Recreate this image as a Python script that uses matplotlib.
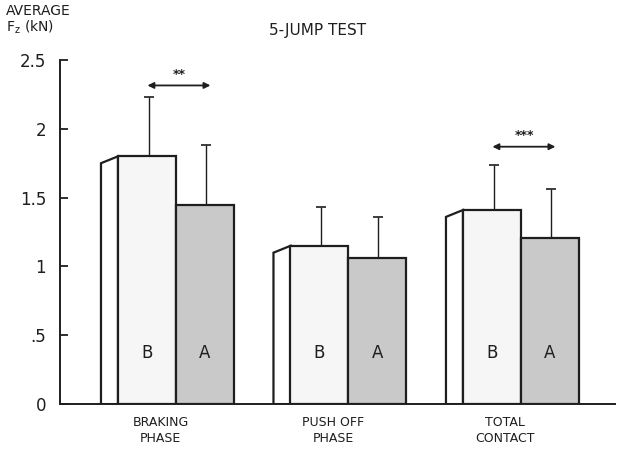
import matplotlib
matplotlib.use("Agg")
import matplotlib.pyplot as plt
import matplotlib.transforms as mtransforms
from matplotlib.patches import Polygon, Rectangle

categories = ["BRAKING\nPHASE", "PUSH OFF\nPHASE", "TOTAL\nCONTACT"]
before_vals = [1.80, 1.15, 1.41]
after_vals = [1.45, 1.06, 1.21]
before_err = [0.43, 0.28, 0.33]
after_err = [0.43, 0.30, 0.35]
yticks = [0, 0.5, 1, 1.5, 2, 2.5]
ytick_labels = ["0", ".5", "1", "1.5", "2", "2.5"]
signif = {0: "**", 2: "***"}

ink = "#1e1e1e"
gray = "#c9c9c9"
light = "#f6f6f6"

fig = plt.figure(figsize=(6.2, 4.51), dpi=100)
ax = fig.add_axes([0.0968, 0.104, 0.895, 0.763])
ax.set_xlim(-0.672, 2.545)
ax.set_ylim(0, 2.5)

w = 0.336
side = 0.0985
dy = 0.05
lw = 1.6
for i, (b, a) in enumerate(zip(before_vals, after_vals)):
    # side face of B bar
    ax.add_patch(Polygon([(i - w - side, 0), (i - w - side, b - dy), (i - w, b), (i - w, 0)],
                         closed=True, facecolor="white", edgecolor=ink, lw=lw, zorder=2))
    ax.add_patch(Rectangle((i - w, 0), w, b, facecolor=light, edgecolor=ink, lw=lw, zorder=3))
    ax.add_patch(Rectangle((i, 0), w, a, facecolor=gray, edgecolor=ink, lw=lw, zorder=3))
    ax.errorbar([i - w / 2 + 0.01], [b], yerr=[[0], [before_err[i]]], fmt="none",
                ecolor=ink, elinewidth=1.0, capsize=3.5, capthick=1.2, zorder=4)
    ax.errorbar([i + w / 2 + 0.005], [a], yerr=[[0], [after_err[i]]], fmt="none",
                ecolor=ink, elinewidth=1.0, capsize=3.5, capthick=1.2, zorder=4)
    ax.text(i - w / 2, 0.37, "B", ha="center", va="center", fontsize=12, color=ink, zorder=5)
    ax.text(i + w / 2, 0.37, "A", ha="center", va="center", fontsize=12, color=ink, zorder=5)

# significance arrows
for i, stars in signif.items():
    top = max(before_vals[i] + before_err[i], after_vals[i] + after_err[i])
    y = top + 0.085 if i == 0 else top + 0.13
    ax.annotate("", xy=(i + 0.2, y), xytext=(i - 0.165, y),
                arrowprops=dict(arrowstyle="<|-|>", color=ink, lw=1.3,
                                mutation_scale=9, shrinkA=0, shrinkB=0))
    ax.text(i + 0.02, y + 0.035, stars, ha="center", va="bottom", fontsize=9,
            fontweight="bold", color=ink)

for s in ["top", "right"]:
    ax.spines[s].set_visible(False)
ax.spines["left"].set_color(ink)
ax.spines["bottom"].set_color(ink)
ax.spines["left"].set_linewidth(1.4)
ax.spines["bottom"].set_linewidth(1.4)
ax.set_yticks(yticks)
ax.set_yticklabels(ytick_labels, fontsize=12, color=ink)
ax.tick_params(axis="y", direction="in", length=6, width=1.3, color=ink, pad=10)
ax.set_xticks([])

trans = mtransforms.blended_transform_factory(ax.transData, fig.transFigure)
for i, c in enumerate(categories):
    ax.text(i - 0.09, 1 - 430 / 451, c, transform=trans, ha="center", va="center",
            fontsize=9, color=ink, linespacing=1.3)

fig.text(318 / 620, 1 - 30 / 451, "5-JUMP TEST", ha="center", va="center",
         fontsize=11, color=ink)
fig.text(6 / 620, 1 - 20 / 451, "AVERAGE\n$\\mathregular{F_z}$ (kN)", ha="left",
         va="center", fontsize=10, color=ink, linespacing=1.0)

fig.savefig("out.png", dpi=100, facecolor="white")
